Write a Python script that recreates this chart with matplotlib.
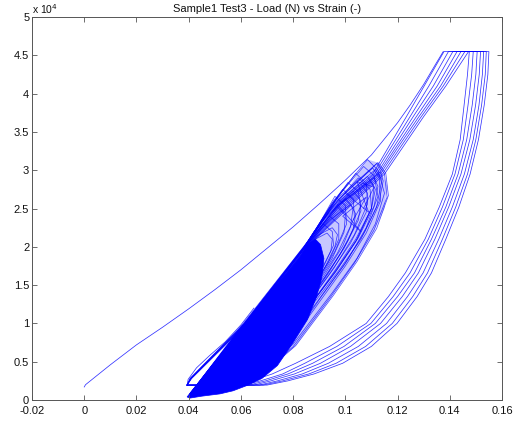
import matplotlib
matplotlib.use('Agg')
import matplotlib.pyplot as plt
from matplotlib.ticker import FuncFormatter

plt.rcParams['font.family'] = ['Liberation Sans', 'DejaVu Sans']

# Courbe de premier chargement (strain, load en N)
virgin_strain = [0.0, 0.0005, 0.01, 0.02, 0.03, 0.04, 0.05, 0.06, 0.07, 0.08, 0.09, 0.10, 0.11, 0.12, 0.125, 0.13, 0.1345, 0.1375]
virgin_load = [1700, 2000, 4600, 7200, 9500, 11900, 14400, 17000, 19800, 22600, 25600, 28700, 32000, 36200, 38600, 41200, 43800, 45500]

plateau_load = 45500
bottom_load = 1950
bottom_strain = 0.0394

# Grands cycles : rechargement dans le nuage puis branche vers le plateau
branch_load = [1950, 2800, 10000, 20500, 25800, 29500, 33000, 37000, 41000, 45500]
branch_strains = [
    [0.0394, 0.0405, 0.0612, 0.0852, 0.0985, 0.1105, 0.1165, 0.1234, 0.1302, 0.1378],
    [0.0394, 0.0406, 0.0614, 0.0855, 0.0993, 0.1112, 0.1175, 0.1248, 0.1320, 0.1395],
    [0.0394, 0.0407, 0.0616, 0.0858, 0.1001, 0.1120, 0.1185, 0.1260, 0.1337, 0.1412],
    [0.0394, 0.0408, 0.0618, 0.0861, 0.1009, 0.1127, 0.1194, 0.1272, 0.1352, 0.1428],
    [0.0394, 0.0409, 0.0620, 0.0864, 0.1017, 0.1134, 0.1202, 0.1282, 0.1365, 0.1443],
    [0.0394, 0.0410, 0.0622, 0.0867, 0.1025, 0.1142, 0.1211, 0.1291, 0.1375, 0.1458],
    [0.0394, 0.0411, 0.0624, 0.0870, 0.1033, 0.1150, 0.1220, 0.1300, 0.1385, 0.1472],
]

# Courbes de decharge des grands cycles
unload_load = [45500, 42500, 38500, 34000, 29500, 25200, 21000, 16600, 13500, 10000, 7000, 4800, 3400, 2500, 1950]
unload_strains = [
    [0.1550, 0.1546, 0.1532, 0.1510, 0.1478, 0.1435, 0.1385, 0.1330, 0.1275, 0.1198, 0.1100, 0.0990, 0.0880, 0.0780, 0.0700],
    [0.1540, 0.1536, 0.1522, 0.1500, 0.1468, 0.1423, 0.1372, 0.1315, 0.1258, 0.1180, 0.1078, 0.0965, 0.0860, 0.0760, 0.0685],
    [0.1530, 0.1525, 0.1512, 0.1490, 0.1456, 0.1410, 0.1358, 0.1298, 0.1238, 0.1158, 0.1050, 0.0935, 0.0835, 0.0740, 0.0670],
    [0.1518, 0.1513, 0.1499, 0.1477, 0.1443, 0.1396, 0.1343, 0.1280, 0.1218, 0.1135, 0.1020, 0.0905, 0.0805, 0.0715, 0.0650],
    [0.1505, 0.1500, 0.1486, 0.1465, 0.1432, 0.1385, 0.1330, 0.1265, 0.1200, 0.1115, 0.0995, 0.0875, 0.0780, 0.0695, 0.0630],
    [0.1490, 0.1484, 0.1470, 0.1452, 0.1420, 0.1372, 0.1318, 0.1248, 0.1183, 0.1098, 0.0968, 0.0845, 0.0760, 0.0675, 0.0612],
    [0.1475, 0.1468, 0.1455, 0.1440, 0.1410, 0.1360, 0.1305, 0.1230, 0.1165, 0.1080, 0.0940, 0.0810, 0.0720, 0.0640, 0.0595],
]

# Rechargement visible a gauche du nuage
reload_strain = [0.0394, 0.0398, 0.0430, 0.0480, 0.0540, 0.0600, 0.0650]
reload_load = [1950, 2700, 4200, 5800, 7600, 9800, 12000]

# Zone saturee (contour)
dense_strain = [0.0394, 0.0424, 0.0500, 0.0585, 0.0650, 0.0712, 0.0770, 0.0826, 0.0855, 0.0885,
                0.0905, 0.0918, 0.0910, 0.0890, 0.0855, 0.0800, 0.0740, 0.0680, 0.0620, 0.0570, 0.0520, 0.0450, 0.0405]
dense_load = [400, 1700, 5000, 8740, 11400, 13960, 16350, 18700, 20200, 21000,
              20300, 18500, 16000, 13500, 10500, 7500, 4500, 2800, 1850, 1200, 800, 500, 250]

# Enveloppe du nuage de petits cycles (zone moins dense)
cluster_strain = [0.0826, 0.0941, 0.1006, 0.1085, 0.1125, 0.1160, 0.1150, 0.1110, 0.1040, 0.0950, 0.0810, 0.0700, 0.0620]
cluster_load = [18700, 25190, 27400, 31400, 31000, 28000, 25000, 22000, 18000, 13700, 7100, 3800, 1850]

# Petits cycles du nuage
loop_strains = [
    [0.0410, 0.0600, 0.0840, 0.0970, 0.1121, 0.1150, 0.1160, 0.1110, 0.1035, 0.0945, 0.0800, 0.0640],
    [0.0415, 0.0610, 0.0850, 0.0960, 0.1105, 0.1130, 0.1135, 0.1080, 0.1000, 0.0905, 0.0770, 0.0625],
    [0.0420, 0.0620, 0.0860, 0.0990, 0.1135, 0.1145, 0.1130, 0.1075, 0.0995, 0.0900, 0.0765, 0.0630],
    [0.0412, 0.0605, 0.0845, 0.0950, 0.1085, 0.1110, 0.1100, 0.1040, 0.0960, 0.0870, 0.0745, 0.0615],
    [0.0418, 0.0608, 0.0848, 0.0940, 0.1060, 0.1085, 0.1080, 0.1020, 0.0940, 0.0850, 0.0730, 0.0608],
    [0.0405, 0.0598, 0.0842, 0.0925, 0.1030, 0.1060, 0.1050, 0.0995, 0.0920, 0.0835, 0.0720, 0.0600],
    [0.0410, 0.0602, 0.0840, 0.0910, 0.1000, 0.1030, 0.1020, 0.0970, 0.0900, 0.0820, 0.0710, 0.0595],
    [0.0408, 0.0600, 0.0838, 0.0895, 0.0970, 0.1000, 0.0995, 0.0950, 0.0885, 0.0810, 0.0700, 0.0590],
    [0.0415, 0.0605, 0.0845, 0.0955, 0.1085, 0.1125, 0.1150, 0.1115, 0.1045, 0.0950, 0.0800, 0.0645],
    [0.0420, 0.0615, 0.0855, 0.0980, 0.1115, 0.1140, 0.1120, 0.1060, 0.0975, 0.0880, 0.0755, 0.0620],
    [0.0412, 0.0603, 0.0850, 0.0945, 0.1050, 0.1095, 0.1100, 0.1045, 0.0965, 0.0870, 0.0745, 0.0612],
    [0.0416, 0.0610, 0.0852, 0.0965, 0.1100, 0.1115, 0.1100, 0.1040, 0.0960, 0.0865, 0.0740, 0.0610],
    [0.0410, 0.0600, 0.0835, 0.0880, 0.0940, 0.0975, 0.0975, 0.0935, 0.0870, 0.0795, 0.0690, 0.0590],
    [0.0405, 0.0598, 0.0832, 0.0870, 0.0915, 0.0950, 0.0955, 0.0915, 0.0855, 0.0785, 0.0685, 0.0588],
    [0.0413, 0.0606, 0.0846, 0.0950, 0.1070, 0.1110, 0.1125, 0.1080, 0.1005, 0.0910, 0.0775, 0.0628],
    [0.0417, 0.0609, 0.0849, 0.0940, 0.1040, 0.1080, 0.1085, 0.1035, 0.0958, 0.0865, 0.0742, 0.0610],
    [0.0411, 0.0604, 0.0844, 0.0925, 0.1010, 0.1050, 0.1060, 0.1010, 0.0940, 0.0852, 0.0732, 0.0603],
    [0.0409, 0.0601, 0.0841, 0.0915, 0.0990, 0.1030, 0.1035, 0.0990, 0.0920, 0.0838, 0.0722, 0.0598],
    [0.0419, 0.0612, 0.0853, 0.0975, 0.1110, 0.1125, 0.1110, 0.1050, 0.0968, 0.0872, 0.0748, 0.0615],
    [0.0414, 0.0607, 0.0847, 0.0965, 0.1125, 0.1155, 0.1165, 0.1120, 0.1045, 0.0955, 0.0810, 0.0648],
    [0.0407, 0.0599, 0.0839, 0.0905, 0.0960, 0.1000, 0.1005, 0.0960, 0.0895, 0.0818, 0.0708, 0.0593],
    [0.0410, 0.0602, 0.0843, 0.0940, 0.1020, 0.1040, 0.1030, 0.0980, 0.0910, 0.0828, 0.0715, 0.0596],
    [0.0406, 0.0598, 0.0836, 0.0895, 0.0950, 0.0970, 0.0960, 0.0920, 0.0860, 0.0790, 0.0688, 0.0588],
    [0.0404, 0.0597, 0.0833, 0.0885, 0.0930, 0.0950, 0.0945, 0.0905, 0.0850, 0.0780, 0.0682, 0.0585],
]
loop_loads = [
    [1000, 9600, 20000, 26000, 30900, 29500, 26500, 22200, 17900, 13500, 6960, 2200],
    [1100, 9800, 20200, 25800, 30300, 29000, 26000, 21800, 17500, 13000, 6600, 2100],
    [1000, 9900, 20300, 25900, 29800, 28600, 26000, 22000, 17600, 13200, 6900, 2300],
    [900, 9500, 20000, 25200, 29200, 27800, 25000, 21000, 16900, 12600, 6400, 2000],
    [1000, 9600, 20100, 24700, 28200, 27000, 24500, 20500, 16500, 12300, 6200, 1900],
    [800, 9300, 19900, 24000, 27300, 26000, 23500, 19800, 16000, 12000, 6000, 1800],
    [900, 9400, 19800, 23400, 26300, 25100, 22700, 19200, 15600, 11600, 5800, 1700],
    [850, 9300, 19700, 22700, 25200, 24100, 21900, 18500, 15000, 11200, 5600, 1650],
    [1000, 9500, 20000, 26000, 31400, 30000, 27000, 23000, 18500, 14000, 7300, 2400],
    [1000, 9800, 20300, 26000, 30100, 28800, 25200, 21000, 16900, 12700, 6500, 2100],
    [950, 9500, 20200, 25000, 29000, 27500, 25000, 21000, 17000, 12500, 6300, 2000],
    [1000, 9700, 20200, 25200, 28500, 27500, 25000, 20700, 16600, 12400, 6200, 1900],
    [900, 9300, 19600, 22000, 24000, 23000, 21000, 18000, 14600, 11000, 5500, 1700],
    [850, 9200, 19500, 21300, 23000, 22000, 20200, 17300, 14200, 10700, 5400, 1650],
    [1000, 9600, 20100, 25700, 30500, 29300, 26600, 22500, 18100, 13600, 6900, 2200],
    [1000, 9600, 20100, 25000, 29600, 28300, 25600, 21600, 17300, 12900, 6500, 2000],
    [950, 9500, 20000, 24300, 28400, 27200, 24700, 20800, 16800, 12500, 6300, 1900],
    [900, 9400, 19900, 23800, 27500, 26300, 23900, 20100, 16300, 12100, 6100, 1800],
    [1000, 9700, 20200, 25500, 29000, 27900, 25300, 21200, 17000, 12700, 6400, 2000],
    [1000, 9600, 20100, 26200, 31000, 29600, 26700, 22400, 18100, 13700, 7100, 2300],
    [850, 9300, 19700, 23300, 26600, 25400, 23000, 19400, 15700, 11700, 5900, 1700],
    [900, 9400, 19900, 23500, 25500, 24300, 22300, 19000, 15400, 11500, 5800, 1750],
    [850, 9200, 19600, 21500, 22500, 21600, 20000, 17200, 14000, 10600, 5400, 1650],
    [800, 9100, 19500, 21000, 21800, 21000, 19500, 16800, 13700, 10400, 5300, 1600],
]

# Traits croises en haut du nuage
zigzag_strains = [
    [0.0970, 0.1060, 0.0990, 0.1080, 0.1030],
    [0.1000, 0.1090, 0.1045, 0.1110, 0.1070],
]
zigzag_loads = [
    [25500, 22000, 24000, 26500, 23500],
    [27000, 24500, 28500, 27800, 25000],
]

line_color = '#0000ff'
lw = 0.55

fig = plt.figure(figsize=(5.31, 4.25), dpi=100)
ax = fig.add_axes([0.0603, 0.0588, 0.885, 0.901])

# Nuage leger puis zone saturee
ax.fill(cluster_strain, cluster_load, color=line_color, alpha=0.22, lw=0)
ax.fill(dense_strain, dense_load, color=line_color, lw=0.5)

# Petits cycles
for s, l in zip(loop_strains, loop_loads):
    ax.plot(s, l, color=line_color, lw=lw, alpha=0.7)
for s, l in zip(zigzag_strains, zigzag_loads):
    ax.plot(s, l, color=line_color, lw=lw, alpha=0.7)

# Premier chargement
ax.plot(virgin_strain, virgin_load, color=line_color, lw=lw, alpha=0.8)

# Grands cycles : rechargement, branche montante, plateau, decharge, retour en bas
for bs, us in zip(branch_strains, unload_strains):
    xs = bs + us + [bottom_strain]
    ys = branch_load + unload_load + [bottom_load]
    ax.plot(xs, ys, color=line_color, lw=lw, alpha=0.8)

ax.plot(reload_strain, reload_load, color=line_color, lw=lw, alpha=0.8)

# Axes style MATLAB
ax.set_xlim(-0.02, 0.16)
ax.set_ylim(0, 50000)
ax.set_xticks([-0.02, 0, 0.02, 0.04, 0.06, 0.08, 0.1, 0.12, 0.14, 0.16])
ax.set_yticks([0, 5000, 10000, 15000, 20000, 25000, 30000, 35000, 40000, 45000, 50000])
ax.xaxis.set_major_formatter(FuncFormatter(lambda v, p: '%g' % round(v, 4)))
ax.yaxis.set_major_formatter(FuncFormatter(lambda v, p: '%g' % (v / 1e4)))
ax.tick_params(direction='in', top=True, right=True, length=3.5, width=0.6,
               labelsize=8, colors='#555555', labelcolor='#111111', pad=2)
ax.tick_params(axis='x', pad=4)
for sp in ax.spines.values():
    sp.set_color('#555555')
    sp.set_linewidth(0.7)

ax.text(0.0, 1.004, 'x 10$^{4}$', transform=ax.transAxes, fontsize=7.5,
        ha='left', va='bottom', color='#111111')
ax.set_title('Sample1 Test3 - Load (N) vs Strain (-)', fontsize=8, pad=4, color='#111111')

plt.savefig('out.png', dpi=100)
